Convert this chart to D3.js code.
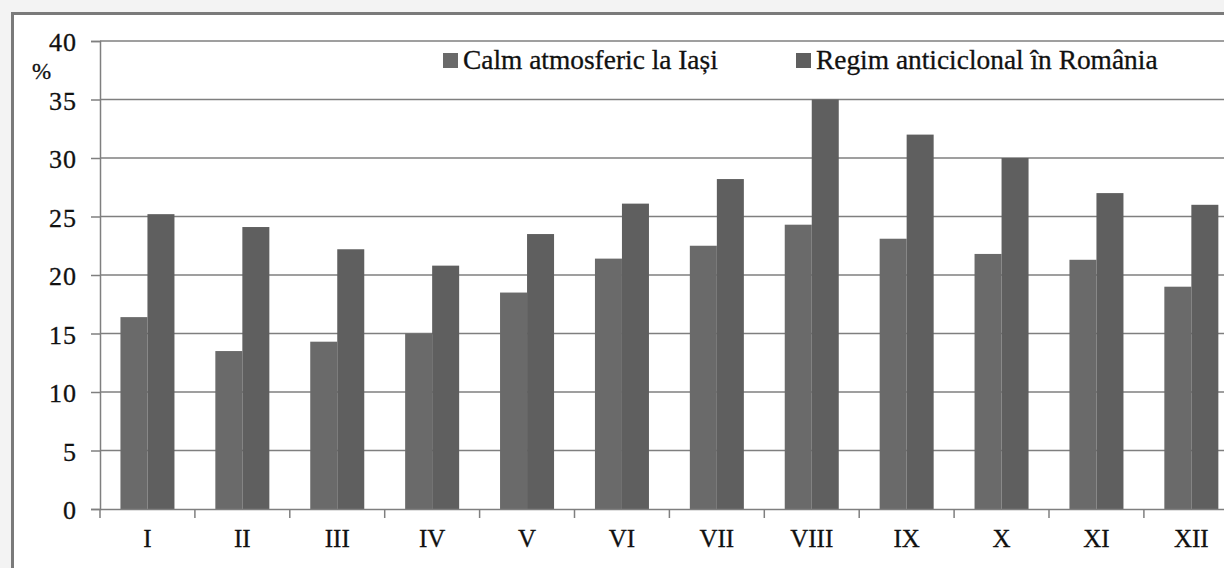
<!DOCTYPE html>
<html><head><meta charset="utf-8">
<script src="https://cdn.jsdelivr.net/npm/d3@7"></script>
<style>
html,body{margin:0;padding:0;background:#f3f3f3;overflow:hidden;}
svg{display:block;}
</style></head>
<body>
<svg id="chart" width="1224" height="568"></svg>
<script>
const categories = ["I","II","III","IV","V","VI","VII","VIII","IX","X","XI","XII"];
const seriesNames = ["Calm atmosferic la Iași","Regim anticiclonal în România"];
const calmIasi = [16.4,13.5,14.3,15.0,18.5,21.4,22.5,24.3,23.1,21.8,21.3,19.0];
const anticiclonal = [25.2,24.1,22.2,20.8,23.5,26.1,28.2,35.0,32.0,30.0,27.0,26.0];
const yTicks = [0,5,10,15,20,25,30,35,40];
const colors = ["#6a6a6a","#5f5f5f"];

const svg = d3.select("#chart");
// frame
svg.append("rect").attr("x",12.5).attr("y",13.5).attr("width",1300).attr("height",600)
  .attr("fill","#fff").attr("stroke","#7a7a7a").attr("stroke-width",3);

const left = 100, step = 94.9;
const x = d3.scaleBand().domain(categories).range([left, left + step*categories.length]).padding(0);
const xs = d3.scaleBand().domain([0,1]).range([0, x.bandwidth()]).paddingInner(0).paddingOuter(0.757);
const y = d3.scaleLinear().domain([0,40]).range([509,41]);

// gridlines
svg.append("g").selectAll("line").data(yTicks.filter(d=>d>0)).join("line")
  .attr("x1",left).attr("x2",1240).attr("y1",d=>y(d)).attr("y2",d=>y(d))
  .attr("stroke","#7f7f7f").attr("stroke-width",1.5);

// bars
const data = categories.map((c,i)=>({c, v:[calmIasi[i], anticiclonal[i]]}));
const g = svg.append("g").selectAll("g").data(data).join("g")
  .attr("transform",d=>`translate(${x(d.c)},0)`);
g.selectAll("rect").data(d=>d.v.map((v,k)=>({v,k}))).join("rect")
  .attr("x",d=>xs(d.k)).attr("width",xs.bandwidth())
  .attr("y",d=>y(d.v)).attr("height",d=>y(0)-y(d.v))
  .attr("fill",d=>colors[d.k]);

const txtStyle = sel => sel.attr("font-family","Liberation Serif").attr("fill","#111")
  .attr("stroke","#111").attr("stroke-width",0.3);

// y axis
const yAxis = d3.axisLeft(y).tickValues(yTicks).tickSize(9).tickPadding(14).tickFormat(d3.format("d"));
const ya = svg.append("g").attr("transform",`translate(${left},0)`).call(yAxis);
ya.select(".domain").attr("stroke","#7f7f7f").attr("stroke-width",1.5);
ya.selectAll(".tick line").attr("stroke","#7f7f7f").attr("stroke-width",1.5);
ya.selectAll("text").call(txtStyle).attr("font-size",26).attr("letter-spacing",1).attr("dy","0.38em");

// x axis
const xAxis = d3.axisBottom(x).tickSize(0).tickPadding(20);
const xa = svg.append("g").attr("transform",`translate(0,${y(0)})`).call(xAxis);
xa.select(".domain").attr("stroke","#7f7f7f").attr("stroke-width",1.5);
xa.selectAll("text").call(txtStyle).attr("font-size",25);
// boundary ticks
svg.append("g").selectAll("line").data(categories).join("line")
  .attr("x1",d=>x(d)).attr("x2",d=>x(d)).attr("y1",y(0)).attr("y2",y(0)+9)
  .attr("stroke","#7f7f7f").attr("stroke-width",1.5);

// % label
svg.append("text").attr("x",32).attr("y",79).text("%").call(txtStyle).attr("font-size",23);

// legend
const legX = [443, 796];
const leg = svg.append("g").selectAll("g").data(seriesNames).join("g")
  .attr("transform",(d,i)=>`translate(${legX[i]},53)`);
leg.append("rect").attr("width",15).attr("height",15).attr("fill",(d,i)=>colors[i]);
leg.append("text").attr("x",20).attr("y",16).text(d=>d).call(txtStyle).attr("font-size",27.4);
</script>
</body></html>
